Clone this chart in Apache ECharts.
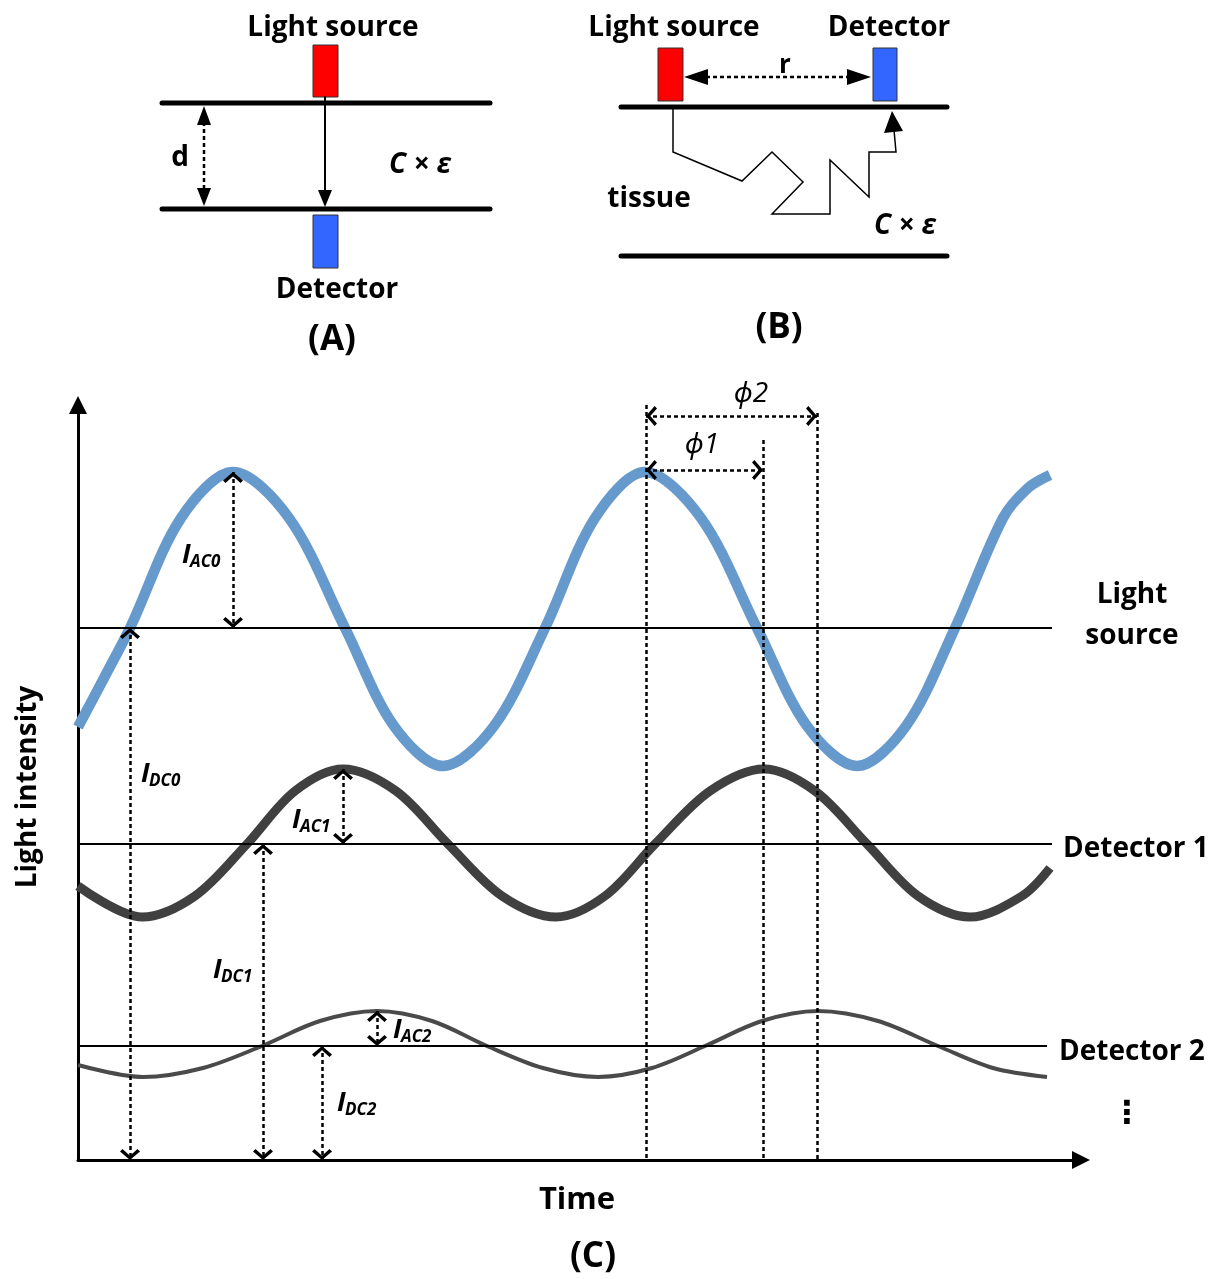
<!DOCTYPE html>
<html><head><meta charset="utf-8">
<script src="https://cdn.jsdelivr.net/npm/echarts@6/dist/echarts.min.js"></script>
<style>html,body{margin:0;padding:0;background:#fff}#c{width:1218px;height:1279px}</style>
</head><body><div id="c"></div>
<script>
// ---- data (time and intensity in arbitrary units) ----
const sourceTime      = [0, 26, 52, 103, 155, 211, 267, 316, 365, 416, 467, 517, 567, 623, 679, 729, 779, 828, 877, 925, 950, 972];
const sourceIntensity = [433, 482, 532, 642, 688, 642, 532, 434, 394, 434, 532, 642, 688, 642, 532, 434, 394, 434, 532, 642, 672, 685];
const det1Time      = [0, 64, 117, 169, 217, 265, 318, 370, 424, 478, 527, 577, 632, 686, 737, 789, 840, 892, 944, 972];
const det1Intensity = [274, 243, 264, 316, 369, 391, 369, 316, 264, 243, 264, 316, 369, 391, 369, 316, 264, 243, 264, 292];
const det2Time      = [0, 65, 125, 184, 242, 299, 354, 409, 465, 520, 574, 627, 684, 740, 800, 860, 915, 969];
const det2Intensity = [95, 83, 92, 114, 139, 149, 139, 114, 92, 83, 92, 114, 139, 149, 139, 114, 92, 83];
const dcNames  = ['Light source', 'Detector 1', 'Detector 2'];
const dcLevels = [532, 316, 114];
const dcEnds   = [974, 974, 969];
// vertical double arrows: I_AC0, I_DC0, I_AC1, I_DC1, I_AC2, I_DC2
const arrowNames = ['AC0', 'DC0', 'AC1', 'DC1', 'AC2', 'DC2'];
const arrowTime  = [155, 52, 265, 185, 299, 244];
const arrowFrom  = [688, 532, 391, 316, 149, 114];
const arrowTo    = [532, 0, 316, 0, 114, 0];
// phase guide lines and phase arrows
const phaseLineTime = [568, 685, 739];
const phaseLineTop  = [755, 720, 747];
const phaseNames  = ['ϕ1', 'ϕ2'];
const phaseStart  = [568, 568];
const phaseEnd    = [685, 739];
const phaseLevel  = [690, 744];

const FONT = '"Open Sans", "Noto Sans", "DejaVu Sans", sans-serif';
const zip = (a, b) => a.map((v, i) => [v, b[i]]);
const chevron = 'path://M0,9L10,0L20,9L17.5,11.5L10,4.5L2.5,11.5Z M10,-11.5L10.01,-11.5';
const tri = 'path://M10,0L20,20L0,20Z';
const CHEV_SIZE = [20, 22];

const markData = [];
const end = (c, s) => ({coord: c, symbol: s, symbolSize: CHEV_SIZE, symbolKeepAspect: false});
arrowTime.forEach((t, i) => markData.push([end([t, arrowFrom[i]], chevron), end([t, arrowTo[i]], chevron)]));
phaseLineTime.forEach((t, i) => markData.push([end([t, phaseLineTop[i]], 'none'), end([t, 0], 'none')]));
phaseStart.forEach((t, i) => markData.push([end([t, phaseLevel[i]], chevron), end([phaseEnd[i], phaseLevel[i]], chevron)]));

function txt(t, x, y, size, st) {
  return {type: 'text', z: 100, silent: true, style: Object.assign({text: t, x: x, y: y + 2, fontSize: size, fontWeight: 'bold', fontFamily: FONT, fill: '#000', align: 'center', verticalAlign: 'middle'}, st || {})};
}
function line(x1, y1, x2, y2, w, dash) {
  return {type: 'line', z: 100, silent: true, shape: {x1, y1, x2, y2}, style: {stroke: '#000', lineWidth: w, lineDash: dash || null, lineCap: dash ? 'butt' : 'round'}};
}
function poly(pts, fill) {
  return {type: 'polygon', z: 100, silent: true, shape: {points: pts}, style: {fill: fill || '#000'}};
}
function rect(x, y, w, h, fill) {
  return {type: 'rect', z: 100, silent: true, shape: {x, y, width: w, height: h}, style: {fill: fill, stroke: '#333', lineWidth: 1}};
}

const g = [];
// ---- Panel A ----
g.push(txt('Light source', 333, 26, 28));
g.push(line(162, 103, 490, 103, 5), line(162, 209, 490, 209, 5));
g.push(rect(313, 45, 25, 52, '#ff0000'), rect(313, 215, 25, 53, '#3366ff'));
g.push(line(325, 97, 325, 192, 2), poly([[318, 190], [332, 190], [325, 207]]));
g.push(line(204, 122, 204, 192, 2.5, [4, 3]), poly([[204, 106], [211, 125], [197, 125]]), poly([[204, 206], [211, 188], [197, 188]]));
g.push(txt('d', 180, 156, 28));
g.push(txt('C × ε', 420, 163, 28, {fontStyle: 'italic'}));
g.push(txt('Detector', 337, 288, 28));
g.push(txt('(A)', 332, 338, 35));
// ---- Panel B ----
g.push(txt('Light source', 674, 26, 28), txt('Detector', 889, 26, 28));
g.push(line(621, 107, 947, 107, 5), line(621, 256, 947, 256, 5));
g.push(rect(658, 48, 25, 53, '#ff0000'), rect(873, 48, 24, 53, '#3366ff'));
g.push(line(706, 77, 848, 77, 2.5, [4, 3]), poly([[684, 77], [708, 69], [708, 85]]), poly([[871, 77], [847, 69], [847, 85]]));
g.push(txt('r', 785, 64, 26));
g.push({type: 'polyline', z: 100, silent: true, shape: {points: [[673, 108], [673, 152], [742, 181], [772, 152], [803, 182], [772, 214], [830, 214], [830, 160], [869, 197], [869, 152], [896, 152], [894, 130]]}, style: {stroke: '#000', lineWidth: 1.5, fill: null}});
g.push(poly([[892, 111], [884, 133], [903, 131]]));
g.push(txt('tissue', 649, 197, 28));
g.push(txt('C × ε', 905, 224, 28, {fontStyle: 'italic'}));
g.push(txt('(B)', 779, 326, 35));
// ---- Panel C texts ----
const yName = txt('Light intensity', 0, -2, 28);
yName.rotation = Math.PI / 2; yName.x = 28; yName.y = 787;
g.push(yName);
g.push(txt('Time', 577, 1198, 31));
g.push(txt('(C)', 593, 1255, 35));
g.push(txt('Light', 1132, 593, 28), txt('source', 1132, 634, 28));
g.push(txt(dcNames[1], 1063, 847, 28, {align: 'left'}), txt(dcNames[2], 1059, 1050, 28, {align: 'left'}));
g.push(txt('⋮', 1127, 1112, 32));
const labelPos = [[182, 562], [141, 781], [292, 827], [213, 977], [393, 1037], [337, 1110]];
arrowNames.forEach((n, i) => {
  const [x, yb] = labelPos[i];
  g.push(txt('I', x, yb - 9, 27, {align: 'left', fontStyle: 'italic'}));
  g.push(txt(n, x + 8, yb - 2, 17, {align: 'left', fontStyle: 'italic'}));
});
g.push(txt(phaseNames[0], 702, 443, 28, {fontWeight: 'normal', fontStyle: 'italic'}));
g.push(txt(phaseNames[1], 751, 392, 28, {fontWeight: 'normal', fontStyle: 'italic'}));

const chart = echarts.init(document.getElementById('c'), null, {renderer: 'canvas'});
chart.setOption({
  animation: false,
  backgroundColor: '#fff',
  grid: {left: 78, right: 137, top: 405, bottom: 119, containLabel: false},
  xAxis: {type: 'value', min: 0, max: 1003, axisLine: {show: true, symbol: ['none', tri], symbolSize: [18, 20], lineStyle: {color: '#000', width: 3}}, axisTick: {show: false}, axisLabel: {show: false}, splitLine: {show: false}},
  yAxis: {type: 'value', min: 0, max: 755, axisLine: {show: true, symbol: ['none', tri], symbolSize: [18, 20], lineStyle: {color: '#000', width: 3}}, axisTick: {show: false}, axisLabel: {show: false}, splitLine: {show: false}},
  series: [
    {name: 'Light source', type: 'line', data: zip(sourceTime, sourceIntensity), smooth: 0.33, showSymbol: false, silent: true, lineStyle: {color: '#6699cc', width: 10.5, cap: 'butt'}, z: 2},
    {name: 'Detector 1', type: 'line', data: zip(det1Time, det1Intensity), smooth: 0.33, showSymbol: false, silent: true, lineStyle: {color: '#404040', width: 9}, z: 2},
    {name: 'Detector 2', type: 'line', data: zip(det2Time, det2Intensity), smooth: 0.33, showSymbol: false, silent: true, lineStyle: {color: '#4a4a4a', width: 4}, z: 2},
    ...dcLevels.map((v, i) => ({name: dcNames[i] + ' DC', type: 'line', data: [[0, v], [dcEnds[i], v]], showSymbol: false, silent: true, lineStyle: {color: '#000', width: 2}, z: 3,
      markLine: i === 0 ? {silent: true, animation: false, symbolSize: CHEV_SIZE, label: {show: false}, emphasis: {disabled: true}, lineStyle: {color: '#000', width: 2.5, type: [4, 3]}, data: markData} : undefined}))
  ],
  graphic: g
});
</script></body></html>
